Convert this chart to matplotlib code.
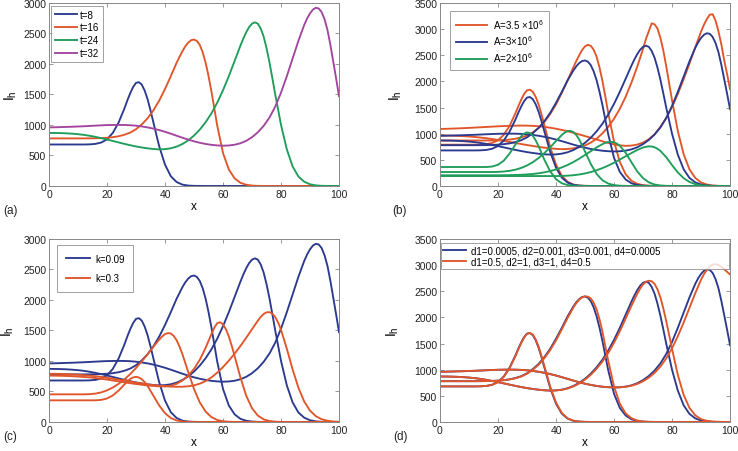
import numpy as np
import matplotlib
matplotlib.use("Agg")
import matplotlib.pyplot as plt

plt.rcParams["font.family"] = ["Liberation Sans", "DejaVu Sans"]
plt.rcParams["mathtext.default"] = "regular"

# common x grid (every 2 units); extra readings at odd x around each peak
x = np.arange(0, 101, 2)

# base case, I_h at t = 8, 16, 24, 32 (panel a, blue in b/c/d)
ih_t8 = [680] * 7 + [682, 690, 712, 765, 870, 1040, 1270, 1520, 1690, 1660, 1420, 1040, 650,
                     350, 160, 65, 22, 7, 2, 1] + [0] * 24
ih_t8_pk = [(27, 1401), (29, 1622), (31, 1701), (33, 1562), (35, 1239)]
ih_t16 = [780] * 7 + [781, 782, 785, 790, 800, 815, 840, 875, 930, 1010,
                      1110, 1240, 1400, 1590, 1800, 2020, 2210, 2350, 2400, 2310,
                      2020, 1550, 990, 540, 270, 125, 52, 20, 7, 2, 1] + [0] * 13
ih_t16_pk = [(47, 2289), (49, 2389), (51, 2376), (53, 2189), (55, 1802)]
ih_t24 = [870, 869, 867, 863, 857, 849, 838, 823, 805, 784,
          762, 738, 714, 690, 668, 648, 631, 617, 606, 600,
          604, 618, 645, 688, 748, 826, 924, 1045, 1190, 1365,
          1570, 1800, 2050, 2300, 2520, 2660, 2660, 2450, 2030, 1500,
          1000, 600, 320, 155, 70, 28, 10, 3, 1, 0, 0]
ih_t24_pk = [(67, 2417), (69, 2604), (71, 2682), (73, 2581), (75, 2260), (77, 1770)]
ih_t32 = [960, 962, 965, 968, 971, 975, 979, 984, 989, 994,
          998, 1000, 1001, 1000, 996, 988, 976, 960, 940, 916,
          888, 857, 824, 791, 760, 732, 708, 689, 674, 665,
          660, 664, 676, 700, 740, 800, 880, 985, 1120, 1300,
          1530, 1800, 2090, 2380, 2640, 2830, 2920, 2850, 2560, 2040, 1470]
ih_t32_pk = [(89, 2746), (91, 2891), (93, 2909), (95, 2733), (97, 2317), (99, 1761)]

# panel b: A = 3.5e6
a35_t8 = [790] * 7 + [792, 800, 822, 875, 980, 1150, 1390, 1650, 1830, 1800, 1560, 1160, 740,
                      410, 195, 80, 28, 9, 3, 1] + [0] * 24
a35_t8_pk = [(27, 1524), (29, 1758), (31, 1841), (33, 1703), (35, 1371)]
a35_t16 = [870] * 10 + [872, 877, 887, 903, 928, 965, 1025, 1110, 1225, 1375, 1560, 1780,
                        2020, 2270, 2500, 2670, 2680, 2470, 2010, 1400, 850, 460, 225, 100,
                        42, 16, 6, 2] + [0] * 13
a35_t16_pk = [(47, 2390), (49, 2599), (51, 2699), (53, 2604), (55, 2265), (57, 1711)]
a35_t24 = [965, 964, 962, 958, 953, 946, 937, 926, 913, 898,
           881, 862, 842, 822, 802, 783, 765, 748, 733, 720,
           710, 704, 708, 720, 742, 775, 830, 905, 1005, 1130,
           1285, 1475, 1705, 1975, 2280, 2620, 2960, 3090, 2830, 2290,
           1640, 1050, 610, 320, 155, 68, 28, 10, 3, 1, 0]
a35_t24_pk = [(71, 2810), (73, 3110), (75, 3010), (77, 2590)]
a35_t32 = [1090, 1093, 1097, 1101, 1106, 1111, 1117, 1123, 1129, 1135,
           1141, 1146, 1150, 1153, 1155, 1154, 1150, 1142, 1130, 1114,
           1095, 1072, 1046, 1017, 986, 954, 921, 888, 855, 823,
           795, 777, 768, 772, 792, 830, 893, 990, 1130, 1300,
           1510, 1760, 2040, 2340, 2650, 2950, 3190, 3285, 2960, 2400, 1850]
a35_t32_pk = [(91, 3083), (93, 3275), (95, 3163), (97, 2708), (99, 2139)]

# panel b: A = 2e6
a2_t8 = [363] * 9 + [372, 405, 485, 620, 790, 950, 1025, 960, 760, 500, 280, 130, 52, 18,
                     6, 2] + [0] * 26
a2_t8_pk = [(27, 876), (29, 1002), (31, 1010), (33, 872)]
a2_t16 = [267] * 10 + [270, 277, 290, 312, 345, 392, 455, 535, 630, 740, 860, 975, 1050,
                       1030, 890, 660, 420, 230, 110, 46, 17, 6, 2] + [0] * 18
a2_t16_pk = [(43, 1020), (45, 1053), (47, 973)]
a2_t24 = [205] * 11 + [206, 208, 211, 215, 221, 230, 243, 261, 285, 316, 355, 402, 458,
                       522, 592, 665, 738, 800, 840, 835, 770, 635, 455, 280, 150, 70, 28,
                       10, 3, 1] + [0] * 10
a2_t24_pk = [(57, 824), (59, 844), (61, 810)]
a2_t32 = [190] * 21 + [192, 197, 206, 220, 240, 267, 301, 342, 390, 445, 505, 568, 630,
                       688, 735, 758, 740, 670, 550, 400, 260, 150, 78, 35, 14, 5, 1] + [0] * 3
a2_t32_pk = [(71, 750), (73, 755), (75, 711)]

# panel c: k = 0.3
k3_t8 = [355] * 9 + [362, 385, 435, 515, 615, 705, 740, 700, 590, 430, 270, 145, 65, 25,
                     8, 2] + [0] * 26
k3_t8_pk = [(27, 664), (29, 730), (31, 729), (33, 653)]
k3_t16 = [453] * 7 + [456, 465, 485, 518, 565, 625, 698, 785, 885, 995, 1110, 1235, 1350,
                      1440, 1450, 1340, 1110, 820, 540, 320, 170, 80, 33, 12, 4, 1] + [0] * 18
k3_t16_pk = [(39, 1401), (41, 1457), (43, 1410), (45, 1236)]
k3_t24 = [760, 759, 757, 754, 750, 745, 738, 730, 720, 708,
          695, 680, 665, 650, 636, 622, 610, 599, 591, 585,
          583, 595, 625, 680, 760, 870, 1020, 1215, 1440, 1620,
          1600, 1400, 1080, 730, 430, 225, 105, 43, 16, 5, 1] + [0] * 10
k3_t24_pk = [(55, 1329), (57, 1545), (59, 1634), (61, 1519), (63, 1249)]
k3_t32 = [790, 789, 787, 784, 780, 775, 768, 760, 750, 738,
          724, 709, 693, 677, 661, 645, 630, 616, 604, 594,
          586, 580, 577, 578, 585, 600, 628, 670, 730, 808,
          900, 1005, 1120, 1245, 1380, 1520, 1660, 1770, 1800, 1720,
          1510, 1200, 860, 560, 335, 185, 95, 45, 20, 8, 3]
k3_t32_pk = [(73, 1722), (75, 1797), (77, 1775), (79, 1629)]

# panel d: d1=0.5, d2=1, d3=1, d4=0.5
dd_t8 = [680] * 7 + [682, 689, 710, 760, 862, 1030, 1258, 1510, 1685, 1670, 1440, 1065, 675,
                     370, 172, 70, 25, 8, 2, 1] + [0] * 24
dd_t8_pk = [(27, 1389), (29, 1614), (31, 1702), (33, 1577), (35, 1261)]
dd_t16 = [780] * 7 + [781, 782, 785, 790, 800, 814, 836, 870, 922, 998,
                      1095, 1220, 1375, 1560, 1770, 1990, 2190, 2340, 2400, 2360,
                      2150, 1730, 1170, 680, 350, 165, 72, 28, 10, 3, 1] + [0] * 13
dd_t16_pk = [(47, 2274), (49, 2382), (51, 2397), (53, 2279), (55, 1962)]
dd_t24 = [870, 869, 867, 863, 857, 849, 838, 823, 805, 784,
          762, 738, 714, 690, 668, 648, 631, 617, 606, 600,
          603, 615, 640, 680, 736, 810, 903, 1018, 1155, 1320,
          1515, 1735, 1975, 2220, 2450, 2630, 2700, 2640, 2380, 1930,
          1400, 900, 520, 270, 128, 55, 22, 8, 3, 1, 0]
dd_t24_pk = [(69, 2550), (71, 2680), (73, 2691), (75, 2534), (77, 2172)]
dd_t32 = [960, 962, 965, 968, 971, 975, 979, 984, 989, 994,
          998, 1000, 1001, 1000, 996, 988, 976, 960, 940, 916,
          888, 857, 824, 791, 760, 732, 708, 689, 674, 665,
          660, 663, 673, 693, 727, 778, 848, 940, 1060, 1215,
          1410, 1640, 1900, 2180, 2460, 2720, 2910, 3010, 3000, 2920, 2820]
dd_t32_pk = [(91, 2825), (93, 2972), (95, 3016), (97, 2966)]

BLUE = "#2b3a8f"
ORANGE = "#e0562a"
GREEN = "#1f9d5a"
PURPLE = "#a2459e"
LW = 1.35


def curve(ys, extra):
    # merge the regular grid readings with the extra readings near the peak
    pts = sorted(list(zip(x, ys)) + extra)
    return [p[0] for p in pts], [p[1] for p in pts]


def style_axes(ax, ymax, ylab_x):
    ax.set_xlim(0, 100)
    ax.set_ylim(0, ymax)
    ax.set_xticks(range(0, 101, 20))
    ax.set_yticks(range(0, ymax + 1, 500))
    ax.tick_params(direction="in", length=3, width=0.6, top=True, right=True,
                   labelsize=7.5, colors="#888888", labelcolor="#222222", pad=2)
    for sp in ax.spines.values():
        sp.set_color("#888888")
        sp.set_linewidth(0.7)
    ax.set_xlabel("x", fontsize=8.5, labelpad=1)
    ax.set_ylabel("I$_h$", fontsize=10)
    ax.yaxis.set_label_coords(ylab_x, 0.5)


def add_legend(ax, anchor, **kw):
    opts = dict(loc="upper left", fontsize=7, frameon=True, fancybox=False,
                borderaxespad=0, bbox_to_anchor=anchor)
    opts.update(kw)
    leg = ax.legend(**opts)
    leg.get_frame().set_edgecolor("#888888")
    leg.get_frame().set_linewidth(0.7)
    return leg


def draw_group(ax, series, color, label):
    for i, (ys, pk) in enumerate(series):
        xs, vs = curve(ys, pk)
        ax.plot(xs, vs, color=color, lw=LW, label=label if i == 0 else None)


fig = plt.figure(figsize=(7.38, 4.52), dpi=100)
ax_a = fig.add_axes([0.0664, 0.5863, 0.393, 0.405])
ax_b = fig.add_axes([0.5962, 0.5863, 0.393, 0.405])
ax_c = fig.add_axes([0.0664, 0.0642, 0.393, 0.405])
ax_d = fig.add_axes([0.5962, 0.0642, 0.393, 0.405])

base = [(ih_t8, ih_t8_pk), (ih_t16, ih_t16_pk), (ih_t24, ih_t24_pk), (ih_t32, ih_t32_pk)]

# (a)
draw_group(ax_a, [base[0]], BLUE, "t=8")
draw_group(ax_a, [base[1]], ORANGE, "t=16")
draw_group(ax_a, [base[2]], GREEN, "t=24")
draw_group(ax_a, [base[3]], PURPLE, "t=32")
style_axes(ax_a, 3000, -0.105)
add_legend(ax_a, (0.007, 0.984), handlelength=2.3, handletextpad=0.25,
           labelspacing=0.3, borderpad=0.38)

# (b)
draw_group(ax_b, [(a35_t8, a35_t8_pk), (a35_t16, a35_t16_pk), (a35_t24, a35_t24_pk),
                  (a35_t32, a35_t32_pk)], ORANGE, r"A=3.5 $\times$10$^{6}$")
draw_group(ax_b, base, BLUE, r"A=3$\times$10$^{6}$")
draw_group(ax_b, [(a2_t8, a2_t8_pk), (a2_t16, a2_t16_pk), (a2_t24, a2_t24_pk),
                  (a2_t32, a2_t32_pk)], GREEN, r"A=2$\times$10$^{6}$")
style_axes(ax_b, 3500, -0.125)
add_legend(ax_b, (0.0345, 0.956), handlelength=3.2, handletextpad=0.6,
           labelspacing=0.3, borderpad=0.6)

# (c)
draw_group(ax_c, base, BLUE, "k=0.09")
draw_group(ax_c, [(k3_t8, k3_t8_pk), (k3_t16, k3_t16_pk), (k3_t24, k3_t24_pk),
                  (k3_t32, k3_t32_pk)], ORANGE, "k=0.3")
style_axes(ax_c, 3000, -0.115)
add_legend(ax_c, (0.0276, 0.967), handlelength=2.5, handletextpad=0.5,
           labelspacing=1.0, borderpad=0.9)

# (d)
draw_group(ax_d, base, BLUE, "d1=0.0005, d2=0.001, d3=0.001, d4=0.0005")
draw_group(ax_d, [(dd_t8, dd_t8_pk), (dd_t16, dd_t16_pk), (dd_t24, dd_t24_pk),
                  (dd_t32, dd_t32_pk)], ORANGE, "d1=0.5, d2=1, d3=1, d4=0.5")
style_axes(ax_d, 3500, -0.135)
add_legend(ax_d, (0.003, 0.0, 0.993, 0.978), handlelength=2.3, handletextpad=0.5,
           labelspacing=0.1, borderpad=0.25, mode="expand")

for lab, fx, fy in [("(a)", 0.004, 0.533), ("(b)", 0.531, 0.533),
                    ("(c)", 0.004, 0.033), ("(d)", 0.533, 0.033)]:
    fig.text(fx, fy, lab, fontsize=8.5, va="center", ha="left", color="#222222")

fig.savefig("out.png", dpi=100)
